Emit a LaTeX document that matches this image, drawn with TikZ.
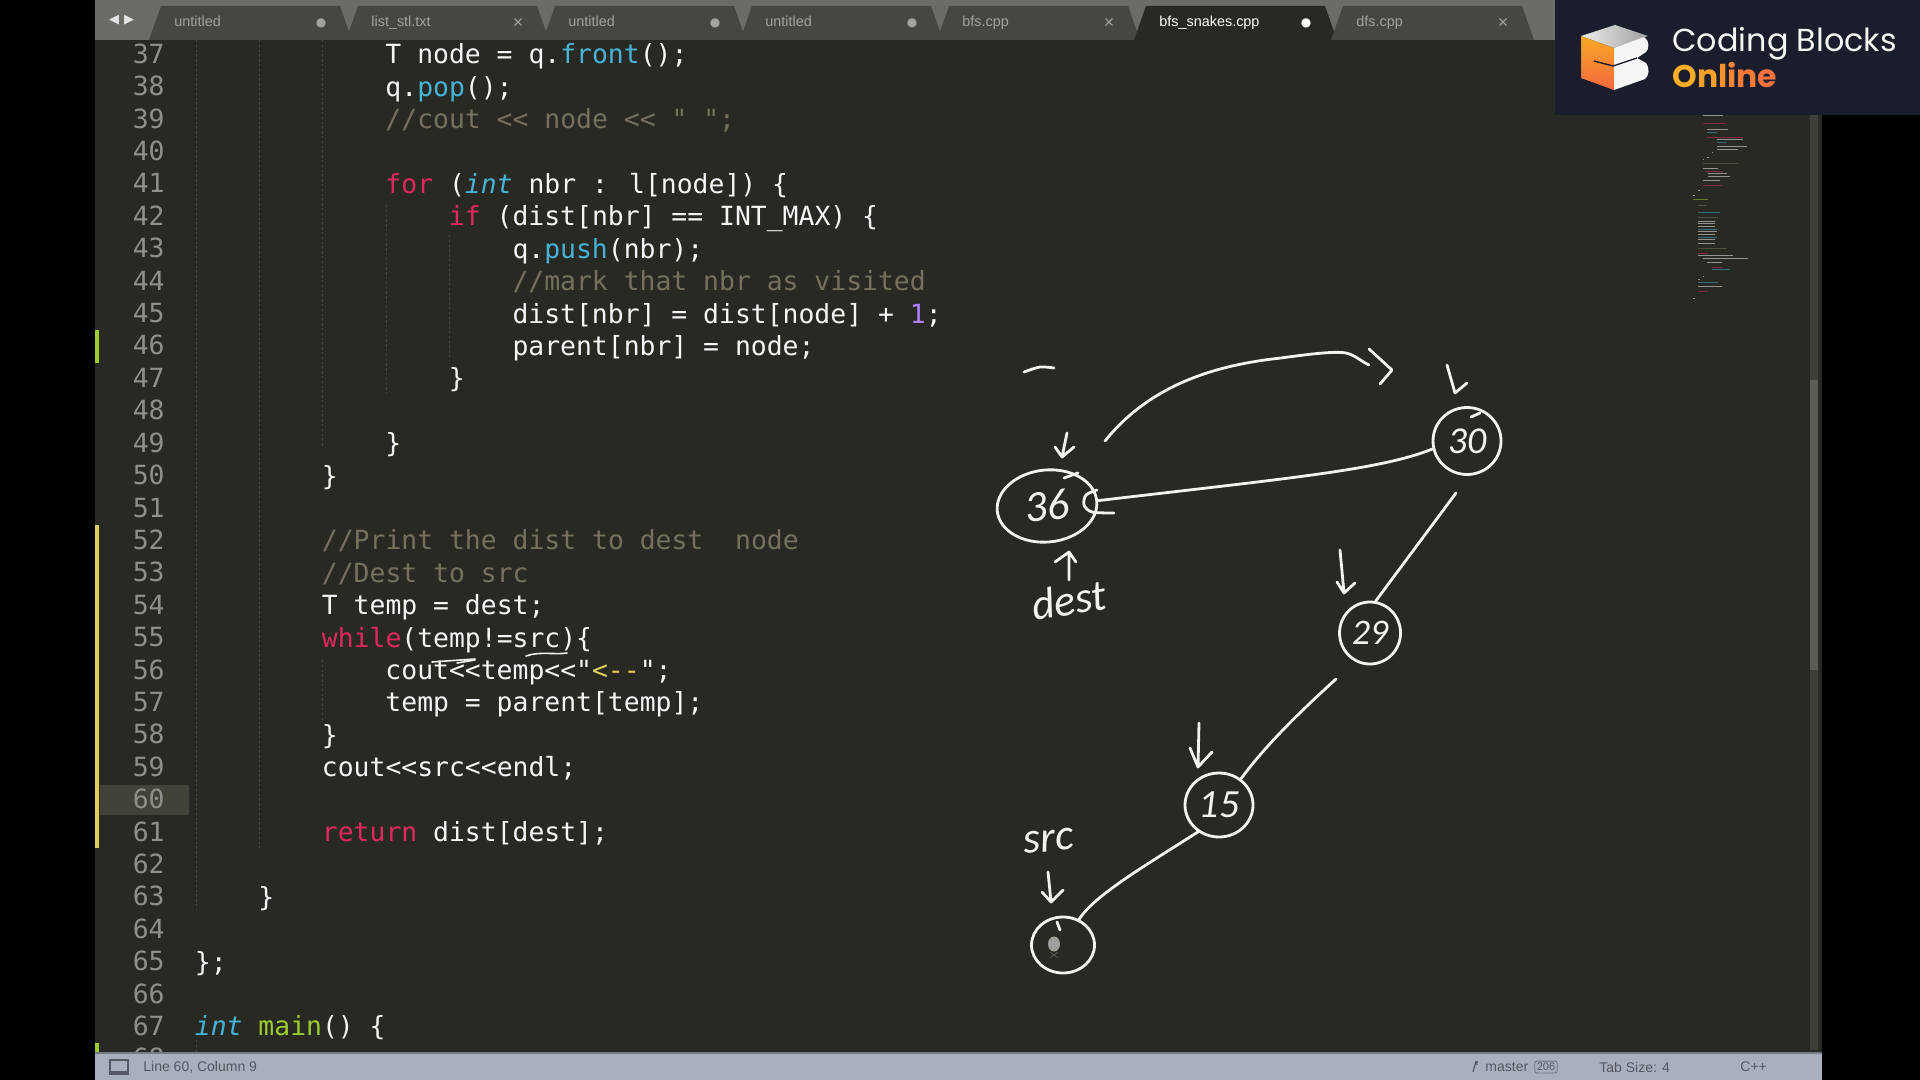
\documentclass[tikz,border=0pt]{standalone}
\usepackage{fontspec}
\setmainfont{Liberation Sans}
\newfontfamily\codefont{DejaVu Sans Mono}
\newfontfamily\handfont{Carlito}
\newfontfamily\logofont{Poppins}
\newfontfamily\symfont{DejaVu Sans}
\usetikzlibrary{shapes.geometric}

\definecolor{bgcol}{HTML}{282923}
\definecolor{topbar}{HTML}{6C6C66}
\definecolor{tabcol}{HTML}{464741}
\definecolor{tabtxt}{HTML}{A3A39D}
\definecolor{numcol}{HTML}{8F908A}
\definecolor{guidecol}{HTML}{44453E}
\definecolor{cmtcol}{HTML}{75715E}
\definecolor{kwdcol}{HTML}{E0285F}
\definecolor{fnccol}{HTML}{45B4D6}
\definecolor{strcol}{HTML}{E0CE5A}
\definecolor{numrcol}{HTML}{AE81FF}
\definecolor{entcol}{HTML}{9CCC2E}
\definecolor{statuscol}{HTML}{A9AFBC}
\definecolor{statustxt}{HTML}{555861}
\definecolor{logocol}{HTML}{1A1D2B}
\definecolor{inkcol}{HTML}{F2F2EE}
\definecolor{cubetop}{HTML}{F9A825}
\definecolor{cubebot}{HTML}{F4683F}

\newcommand{\kwd}[1]{\textcolor{kwdcol}{#1}}
\newcommand{\fnc}[1]{\textcolor{fnccol}{#1}}
\newcommand{\typ}[1]{\textcolor{fnccol}{\itshape #1}}
\newcommand{\cmt}[1]{\textcolor{cmtcol}{#1}}
\newcommand{\strn}[1]{\textcolor{strcol}{#1}}
\newcommand{\numr}[1]{\textcolor{numrcol}{#1}}
\newcommand{\ent}[1]{\textcolor{entcol}{#1}}
\newcommand{\tabdot}{{\symfont\fontsize{6}{6}\selectfont ●}}
\newcommand{\tabx}{{\fontsize{9}{9}\selectfont ×}}

\tikzset{
	codeline/.style={anchor=base west, inner sep=0pt, text=white!92!gray, font=\codefont\fontsize{13.2}{15}\selectfont},
	linenum/.style={anchor=base east, inner sep=0pt, text=numcol, font=\codefont\fontsize{13.2}{15}\selectfont},
	tabname/.style={anchor=base west, inner sep=0pt, font=\fontsize{7.2}{9}\selectfont},
	statustext/.style={anchor=west, inner sep=0pt, text=statustxt, font=\fontsize{7}{9}\selectfont},
	guideline/.style={draw=guidecol, line width=0.4pt, dash pattern=on 1.2pt off 1.2pt},
	hand/.style={draw=inkcol, line width=1.4pt, line cap=round, line join=round},
	blob/.style={ellipse, hand, inner sep=0pt},
	handtext/.style={inner sep=0pt, text=inkcol, font=\handfont\itshape\fontsize{#1}{#1}\selectfont},
	handtext/.default=22
}

\begin{document}
\begin{tikzpicture}[x=0.5pt,y=-0.5pt]
	\useasboundingbox (0,0) rectangle (1920,1080);
	\fill[black] (0,0) rectangle (1920,1080);
	\fill[bgcol] (95,40) rectangle (1822,1053);
	\fill[topbar] (95,0) rectangle (1822,40);

	% tabs
	\foreach \i/\tabtitle/\mk/\tabfill/\tabink in {0/untitled/\tabdot/tabcol/tabtxt,1/list\_stl.txt/\tabx/tabcol/tabtxt,2/untitled/\tabdot/tabcol/tabtxt,3/untitled/\tabdot/tabcol/tabtxt,4/bfs.cpp/\tabx/tabcol/tabtxt,5/bfs\_snakes.cpp/\tabdot/bgcol/white,6/dfs.cpp/\tabx/tabcol/tabtxt}
	{
		\fill[\tabfill] ({149+197*\i},40) -- ({161+197*\i},6) -- ({340+197*\i},6) -- ({352+197*\i},40) -- cycle;
		\node[tabname, text=\tabink] (tab\i) at ({174+197*\i},27) {\tabtitle};
		\node[inner sep=0pt, text=\tabink] (mark\i) at ({321+197*\i},23) {\mk};
	}
	\node[inner sep=0pt, text=white!80!gray, font=\symfont\fontsize{6.5}{7}\selectfont] (prevtab) at (114,20) {◀};
	\node[inner sep=0pt, text=white!80!gray, font=\symfont\fontsize{6.5}{7}\selectfont] (nexttab) at (129,20) {▶};

	% gutter
	\fill[cmtcol!35!bgcol] (100,785) rectangle (189,815);
	\fill[entcol] (95,330) rectangle (99,363);
	\fill[strcol] (95,525) rectangle (99,848);
	\fill[entcol] (95,1043) rectangle (99,1054);
	\foreach \s in {37,...,68}
	{
		\node[linenum] (num\s) at (165,{841+32.4*(\s-61)}) {\s};
	}

	% indent guides
	\foreach \gx/\ya/\yb in {196/40/910,196/1040/1053,259/40/848,322/40/447,322/660/722,386/205/393,449/235/360}
	{
		\path[guideline] (\gx,\ya)--(\gx,\yb);
	}

	% code
	\foreach \s/\c/\txt in {
		37/12/{T node = q.\fnc{front}();},
		38/12/{q.\fnc{pop}();},
		39/12/{\cmt{//cout << node << " ";}},
		41/12/{\kwd{for} (\typ{int} nbr : l[node]) \{},
		42/16/{\kwd{if} (dist[nbr] == INT\_MAX) \{},
		43/20/{q.\fnc{push}(nbr);},
		44/20/{\cmt{//mark that nbr as visited}},
		45/20/{dist[nbr] = dist[node] + \numr{1};},
		46/20/{parent[nbr] = node;},
		47/16/{\}},
		49/12/{\}},
		50/8/{\}},
		52/8/{\cmt{//Print the dist to dest\ \ node}},
		53/8/{\cmt{//Dest to src}},
		54/8/{T temp = dest;},
		55/8/{\kwd{while}(temp!=src)\{},
		56/12/{cout<<temp<<"\strn{<{-}{-}}";},
		57/12/{temp = parent[temp];},
		58/8/{\}},
		59/8/{cout<<src<<endl;},
		61/8/{\kwd{return} dist[dest];},
		63/4/{\}},
		65/0/{\};},
		67/0/{\typ{int} \ent{main}() \{}}
	{
		\node[codeline] (code\s) at ({194.5+15.88*\c},{841.5+32.4*(\s-61)}) {\txt};
	}

	% minimap
	\foreach \my/\xa/\xb/\mc in {48/68/130/white,72/68/135/kwdcol,88/82/145/white,98/82/110/fnccol,112/82/190/kwdcol,120/110/190/white,128/110/140/fnccol,140/110/200/white,150/110/175/white,158/95/100/white,172/82/88/white,178/68/72/white,192/68/175/cmtcol,207/68/115/white,215/75/130/kwdcol,222/85/140/white,230/85/150/white,242/68/120/white,258/68/125/kwdcol,272/55/60/white,288/40/45/white,300/40/85/entcol,316/55/80/cmtcol,337/55/120/fnccol,352/55/115/cmtcol,364/55/105/white,372/55/105/white,380/55/105/white,388/55/110/fnccol,396/55/110/white,404/55/105/white,412/55/110/fnccol,420/55/105/white,430/55/105/white,445/55/140/cmtcol,460/55/85/kwdcol,468/55/160/white,475/70/205/white,488/80/125/white,503/95/125/kwdcol,510/95/150/fnccol,530/70/72/white,538/55/60/white,547/55/115/fnccol,560/55/125/white,576/55/85/kwdcol,595/40/44/white}
	{
		\path[draw=\mc!50!bgcol,line width=0.5pt] ({1680+\xa/3},{100+\my/3})--({1680+\xb/3},{100+\my/3});
	}

	% scrollbar
	\fill[guidecol!80!bgcol] (1810,115) rectangle (1818,1050);
	\fill[numcol!50!bgcol] (1810,380) rectangle (1818,670);

	% status bar
	\fill[statuscol] (95,1053) rectangle (1822,1080);
	\path[draw=statuscol!70!black,line width=0.6pt] (95,1053)--(1822,1053);
	\path[draw=statustxt,line width=0.6pt] (110,1060) rectangle (128,1074);
	\fill[statustxt] (110,1071) rectangle (128,1074);
	\node[statustext] (linecol) at (143,1067) {Line 60, Column 9};
	\path[draw=statustxt,line width=0.6pt] (1476,1061)--(1473,1072) (1477,1061)--(1477,1065);
	\node[statustext] (branch) at (1485,1067) {master};
	\node[draw=statustxt!70!statuscol, line width=0.4pt, rounded corners=1pt, inner sep=1pt, text=statustxt, font=\fontsize{5.5}{7}\selectfont] (badge) at (1546,1067) {206};
	\node[statustext] (tabsize) at (1599,1067) {Tab Size: 4};
	\node[statustext] (lang) at (1740,1067) {C++};

	% logo
	\fill[logocol] (1555,0) rectangle (1920,115);
	\shade[left color=white!85!gray, right color=gray!75!white] (1615,25) -- (1581,36) -- (1614,48) -- (1648,36) -- cycle;
	\shade[top color=cubetop, bottom color=cubebot] (1581,36) -- (1614,48) -- (1614,90) -- (1581,78) -- cycle;
	\fill[white!92!gray] (1614,48) -- (1644,37) .. controls (1650,40) and (1649,50) .. (1646,52) -- (1637,58) -- (1646,63) .. controls (1650,68) and (1649,76) .. (1645,79) -- (1614,90) -- cycle;
	\path[draw=logocol,line width=0.7pt] (1594,61) -- (1613,66) -- (1637,58);
	\node[anchor=base west, inner sep=0pt, text=white!92!gray, font=\logofont\fontsize{15.9}{18}\selectfont] (logoname) at (1672,52) {Coding Blocks};
	\node[anchor=base west, inner sep=0pt, font=\logofont\bfseries\fontsize{15.7}{18}\selectfont] (logoonline) at (1672,88) {\textcolor[HTML]{F9AE25}{O}\textcolor[HTML]{F8A02A}{n}\textcolor[HTML]{F7922F}{l}\textcolor[HTML]{F68534}{i}\textcolor[HTML]{F57A39}{n}\textcolor[HTML]{F4703E}{e}};

	% graph nodes
	\node[blob, minimum width=50pt, minimum height=36pt, handtext=22, rotate=6] (n36) at (1047,506) {36};
	\node[blob, minimum width=34pt, minimum height=33.5pt, handtext=19] (n30) at (1467,441) {30};
	\node[blob, minimum width=30.5pt, minimum height=31pt, handtext=18] (n29) at (1370,633) {29};
	\node[blob, minimum width=34pt, minimum height=32pt, handtext=20] (n15) at (1219,805) {15};
	\node[blob, minimum width=31.5pt, minimum height=28pt] (nsrc) at (1063,945) {};
	\node[handtext=22, rotate=9] (dest) at (1069,600) {dest};
	\node[handtext=22, rotate=5] (src) at (1049,841) {src};
	\fill[gray!75!white] (1054,944) ellipse (6 and 7.5);
	\path[draw=gray!60!bgcol,line width=0.4pt] (1050,952)--(1058,958) (1058,952)--(1050,958);

	\coordinate (gap30) at (1456,493);
	\coordinate (gap29) at (1336,679);
	\coordinate (swoopstart) at (1105,441);
	\coordinate (swoopend) at (1369,365);

	% connectors
	\path[hand] (n36.east) .. controls (1290,478) and (1380,470) .. (n30.193);
	\path[hand] (gap30) -- (n29.80);
	\path[hand] (gap29) .. controls (1293,718) and (1262,750) .. (n15.50);
	\path[hand] (n15.232) .. controls (1143,867) and (1095,895) .. (nsrc.58);
	\path[hand] (swoopstart) .. controls (1150,385) and (1215,365) .. (1281,358) .. controls (1310,354) and (1335,351) .. (1346,353) .. controls (1355,355) and (1362,362) .. (swoopend);
	\path[hand] (1369,349) -- (1392,370) -- (1380,384);

	% hand arrows
	\foreach \ax/\ay/\bx/\by/\lx/\ly/\rx/\ry in {1067/433/1062/457/1055/447/1074/447,1069/580/1069/552/1055/562/1076/562,1447/365/1455/393/1455/393/1467/383,1340/550/1344/593/1337/582/1355/583,1199/723/1198/767/1190/748/1212/752,1048/872/1051/902/1042/892/1063/890}
	{
		\path[hand] (\ax,\ay)--(\bx,\by) (\lx,\ly)--(\bx,\by)--(\rx,\ry);
	}

	% marks
	\path[hand] plot[smooth] coordinates {(1024,372) (1040,367) (1054,368)};
	\path[hand] (1064,478)--(1078,473);
	\path[hand] plot[smooth] coordinates {(1097,490) (1086,495) (1084,505) (1092,512) (1114,513)};
	\path[hand] (1471,417)--(1480,413);
	\path[hand] (1057,922)--(1060,930);
	\path[hand,line width=0.8pt] (526,656) .. controls (540,651) and (555,655) .. (567,653);
	\path[hand,line width=0.8pt] (432,662)--(475,659) (457,663)--(475,660);
\end{tikzpicture}
\end{document}
